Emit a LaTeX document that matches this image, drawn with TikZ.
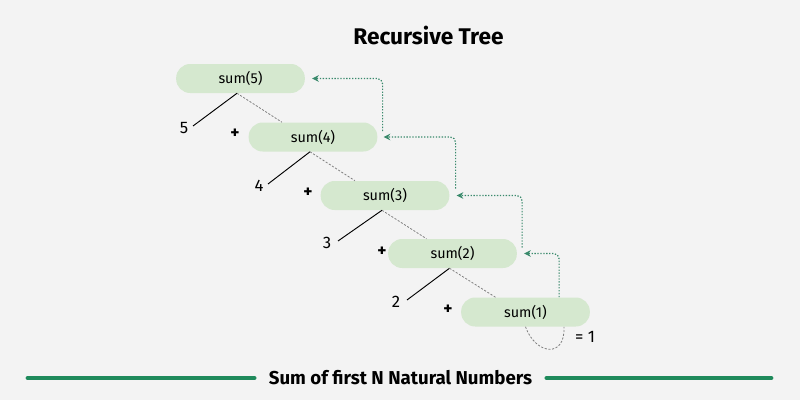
\documentclass[tikz,border=0pt]{standalone}
\usepackage{fontspec}
\setmainfont{Fira Sans}
\usetikzlibrary{arrows.meta,calc}
\definecolor{bg}{HTML}{F3F3F3}
\definecolor{pill}{HTML}{D5E8CF}
\definecolor{retc}{HTML}{3A8A6C}
\definecolor{gline}{HTML}{1F8A5B}
\definecolor{dashc}{HTML}{808080}
\tikzset{
  pillnode/.style={fill=pill, rounded corners=10.5pt, minimum width=96.5pt, minimum height=21.75pt, inner sep=0pt, font=\fontsize{10.8}{12}\selectfont, text=black},
  numlabel/.style={font=\fontsize{12.5}{14}\selectfont, inner sep=0pt},
  pluslabel/.style={font=\fontsize{13}{14}\selectfont\bfseries, inner sep=0pt},
  solidcon/.style={draw=black, line width=0.7pt},
  dashcon/.style={draw=dashc, line width=0.6pt, dash pattern=on 1.6pt off 1.2pt},
  retarrow/.style={draw=retc, line width=0.9pt, dash pattern=on 1pt off 1.2pt, rounded corners=4pt, -{Stealth[length=5pt,width=5pt]}},
}
\begin{document}
\begin{tikzpicture}[x=0.75pt,y=-0.75pt]
\fill[bg] (0,0) rectangle (800,400);
\useasboundingbox (0,0) rectangle (800,400);

\node[font=\fontsize{17}{20}\selectfont\bfseries] (title) at (428.5,35) {Recursive Tree};

\node[pillnode] (s5) at (240.5,78.5) {sum(5)};
\node[pillnode] (s4) at (313,137) {sum(4)};
\node[pillnode] (s3) at (385,195.5) {sum(3)};
\node[pillnode] (s2) at (452.5,253.5) {sum(2)};
\node[pillnode] (s1) at (525.5,312) {sum(1)};

\node[numlabel] (n5) at (184,128) {5};
\node[numlabel] (n4) at (259,186) {4};
\node[numlabel] (n3) at (327,243) {3};
\node[numlabel] (n2) at (396,302) {2};

\node[pluslabel] (p4) at (235,134) {+};
\node[pluslabel] (p3) at (308,193) {+};
\node[pluslabel] (p2) at (382,252) {+};
\node[pluslabel] (p1) at (448,310) {+};

\node[numlabel] (eq) at (585,337) {= 1};

% solid connectors
\draw[solidcon] ($(s5.south)+(-3.5,0)$) -- ($(n5)+(9,-2)$);
\draw[solidcon] ($(s4.south)+(-3,0)$) -- ($(n4)+(9,-2)$);
\draw[solidcon] ($(s3.south)+(-3,0)$) -- ($(n3)+(11,-2)$);
\draw[solidcon] ($(s2.south)+(-3,0)$) -- ($(n2)+(11,-2)$);

% dashed connectors
\draw[dashcon] ($(s5.south)+(-3.5,0)$) -- ($(s4.north)+(-31,0)$);
\draw[dashcon] ($(s4.south)+(-3,0)$) -- ($(s3.north)+(-30,0)$);
\draw[dashcon] ($(s3.south)+(-3,0)$) -- ($(s2.north)+(-26,0)$);
\draw[dashcon] ($(s2.south)+(-3,0)$) -- ($(s1.north)+(-30,0)$);

% base case loop
\draw[dashcon] ($(s1.south)+(0,0)$) .. controls ($(s1.south)+(10,28)$) and ($(s1.south)+(40,32)$) .. ($(s1.south)+(38.5,0)$);

% return arrows
\draw[retarrow] ($(s1.north east)+(-31,0)$) |- ($(s2.east)+(7,0)$);
\draw[retarrow] ($(s2.east)+(5,-6)$) |- ($(s3.east)+(7,0)$);
\draw[retarrow] ($(s3.east)+(6,-7)$) |- ($(s4.east)+(6,0)$);
\draw[retarrow] ($(s4.east)+(5,-6)$) |- ($(s5.east)+(7,0)$);

% footer
\node[font=\fontsize{14}{16}\selectfont\bfseries] (foot) at (400.5,378) {Sum of first N Natural Numbers};
\coordinate (la) at (28,378);
\coordinate (rb) at (771,378);
\draw[gline, line width=3.6pt, line cap=round] (la) -- ($(foot.west)+(-10,0)$);
\draw[gline, line width=3.6pt, line cap=round] ($(foot.east)+(10,0)$) -- (rb);
\end{tikzpicture}
\end{document}
